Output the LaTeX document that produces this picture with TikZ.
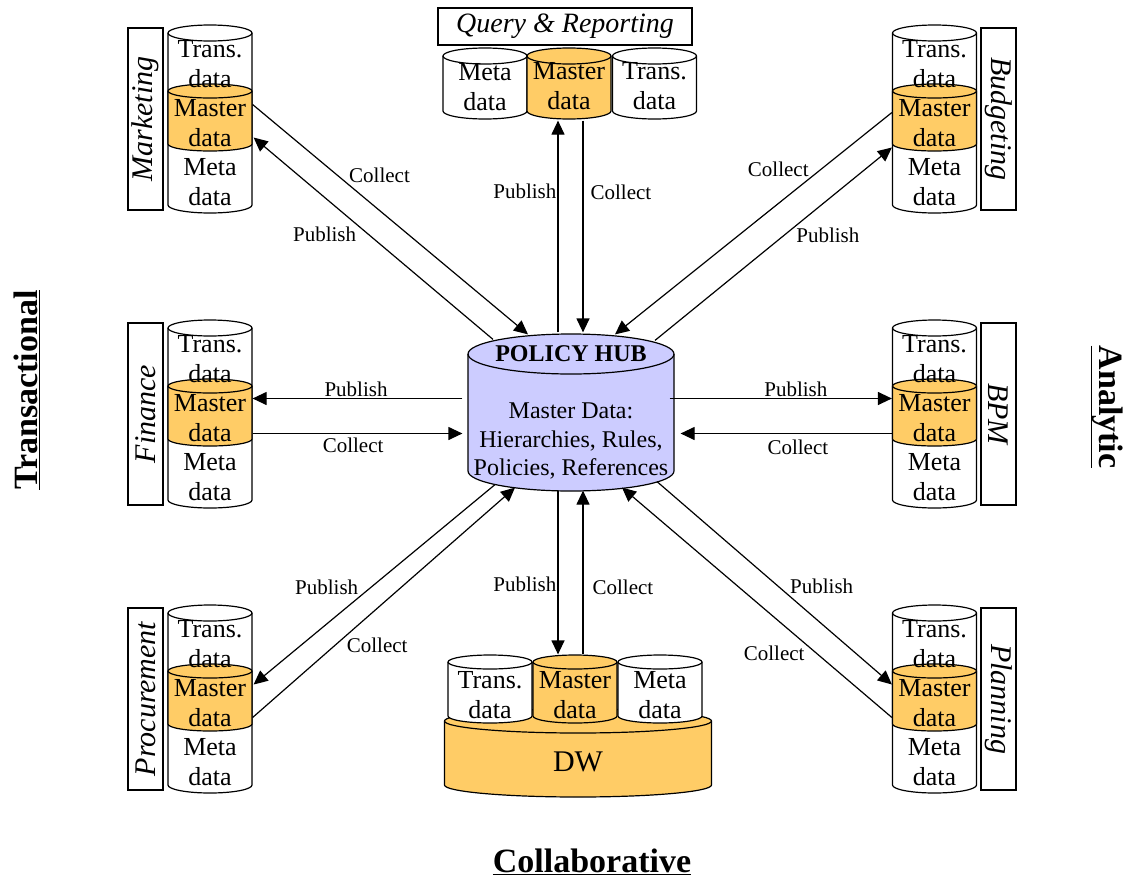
\documentclass[tikz,border=0pt]{standalone}
\usepackage{fontspec}
\setmainfont{Liberation Serif}
\usepackage{tikz}
\usetikzlibrary{arrows.meta}
\usetikzlibrary{calc}
\usepackage{xcolor}
\definecolor{mastercol}{HTML}{FFCC66}
\definecolor{hubcol}{HTML}{CCCCFF}
\tikzset{every text node part/.style={align=center}}
\tikzstyle{txt} = [inner sep=0, font={\fontsize{26}{30}\selectfont}]
\tikzstyle{part} = [inner sep=0, minimum width=84pt]
\tikzstyle{lbox} = [draw, fill=white, minimum width=182pt, minimum height=35pt, inner sep=0, font={\fontsize{30}{30}\selectfont\itshape}]
\tikzstyle{ln} = [draw, -{Triangle[length=14pt, width=13pt]}]
\tikzstyle{lbl} = [inner sep=1pt, font={\fontsize{21}{21}\selectfont}]
\tikzstyle{title} = [inner sep=0, font={\fontsize{34}{34}\selectfont\bfseries}]

% cylinder: x, top y, bottom y, x radius, y radius, fill
\newcommand{\cyl}[6]{%
  \filldraw[fill=#6] ({#1-#4},#2) -- ({#1-#4},#3)
    arc[start angle=180, end angle=360, x radius=#4pt, y radius=#5pt]
    -- ({#1+#4},#2)
    arc[start angle=0, end angle=180, x radius=#4pt, y radius=#5pt] -- cycle;
  \draw ({#1-#4},#2) arc[start angle=180, end angle=360, x radius=#4pt, y radius=#5pt];
}
% stack of trans/master/meta data: name, x, top y
\newcommand{\sidestack}[3]{%
  \cyl{#2}{#3}{#3+172}{42}{8}{white}
  \cyl{#2}{#3+58}{#3+111}{42}{7}{mastercol}
  \node[part, minimum height=53pt] (#1) at (#2,#3+84.5) {};
  \node[txt] (#1-t) at (#2,#3+31) {Trans.\\data};
  \node[txt] (#1-m) at (#2,#3+90) {Master\\data};
  \node[txt] (#1-d) at (#2,#3+149) {Meta\\data};
}

\begin{document}
\begin{tikzpicture}[x=1pt, y=-1pt, line width=1.2pt]
  \useasboundingbox (0,0) rectangle (1130,881);

  % policy hub
  \cyl{571}{354}{471}{103}{20}{hubcol}
  \node[part, minimum width=206pt, minimum height=157pt] (hub) at (571,412.5) {};
  \node[inner sep=0, font={\fontsize{24}{24}\selectfont\bfseries}] (hubtitle) at (571,354) {POLICY HUB};
  \node[inner sep=0, font={\fontsize{24}{28.5}\selectfont}] (hubtext) at (571,441) {Master Data:\\Hierarchies, Rules,\\Policies, References};

  % side stacks
  \sidestack{mkt}{210}{33}
  \sidestack{fin}{210}{328}
  \sidestack{proc}{210}{613}
  \sidestack{bud}{934.5}{33}
  \sidestack{bpm}{934.5}{328}
  \sidestack{plan}{934.5}{613}
  \node[lbox, rotate=90] (mktbox) at (145.5,119) {Marketing};
  \node[lbox, rotate=90] (finbox) at (145.5,414) {Finance};
  \node[lbox, rotate=90] (procbox) at (145.5,699) {Procurement};
  \node[lbox, rotate=-90] (budbox) at (998.5,119) {Budgeting};
  \node[lbox, rotate=-90] (bpmbox) at (998.5,414) {BPM};
  \node[lbox, rotate=-90] (planbox) at (998.5,699) {Planning};

  % query & reporting
  \node[draw, minimum width=254pt, minimum height=37pt, inner sep=0, font={\fontsize{28}{28}\selectfont\itshape}] (qrbox) at (565,26.5) {Query \& Reporting};
  \cyl{485}{56}{111}{42}{8}{white}
  \cyl{654.5}{56}{111}{42}{8}{white}
  \cyl{569}{56}{111}{42}{8}{mastercol}
  \node[part, minimum height=55pt] (qr) at (569,83.5) {};
  \node[txt] (qrmeta) at (485,87) {Meta\\data};
  \node[txt] (qrmast) at (569,86) {Master\\data};
  \node[txt] (qrtrans) at (654.5,86) {Trans.\\data};

  % data warehouse
  \cyl{578}{721}{785}{133.5}{12}{mastercol}
  \cyl{490}{662}{716}{42}{7}{white}
  \cyl{660}{662}{716}{42}{7}{white}
  \cyl{575}{662}{716}{42}{7}{mastercol}
  \node[part, minimum height=54pt] (dwm) at (575,689) {};
  \node[txt] (dwtrans) at (490,695) {Trans.\\data};
  \node[txt] (dwmast) at (575,695) {Master\\data};
  \node[txt] (dwmeta) at (660,695) {Meta\\data};
  \node[inner sep=0, font={\fontsize{30}{30}\selectfont}] (dw) at (578,762) {DW};

  % publish / collect
  \draw[ln] ($(mkt.east)+(0,-13)$) -- node[lbl, pos=.345, anchor=south west] (c1) {Collect} ($(hub.north)+(-43,1)$);
  \draw[ln] ($(hub.north)+(-78,6)$) -- node[lbl, pos=.565, anchor=north east] (p1) {Publish} ($(mkt.east)+(1,20)$);
  \draw[ln] ($(bud.west)+(0,-5)$) -- node[lbl, pos=.295, anchor=south east] (c2) {Collect} ($(hub.north)+(44,1)$);
  \draw[ln] ($(hub.north)+(84,7)$) -- node[lbl, pos=.59, anchor=north west] (p2) {Publish} ($(bud.west)+(0,30)$);
  \draw[ln] ($(hub.west)+(-5,-14)$) -- node[lbl, pos=.507, above] (p3) {Publish} ($(fin.east)+(0,-14)$);
  \draw[ln] ($(fin.east)+(0,21)$) -- node[lbl, pos=.479, below=3pt] (c3) {Collect} ($(hub.west)+(-5,21)$);
  \draw[ln] ($(hub.east)+(-5,-14)$) -- node[lbl, pos=.568, above] (p4) {Publish} ($(bpm.west)+(0,-14)$);
  \draw[ln] ($(bpm.west)+(0,21)$) -- node[lbl, pos=.445, below=5pt] (c4) {Collect} ($(hub.east)+(6,21)$);
  \draw[ln] ($(hub.north)+(-13,-1)$) -- node[lbl, pos=.667, left] (p5) {Publish} ($(qr.south)+(-11,9)$);
  \draw[ln] ($(qr.south)+(14,9)$) -- node[lbl, pos=.338, right=6pt] (c5) {Collect} ($(hub.north)+(12,-1)$);
  \draw[ln] ($(hub.south)+(-13,-1)$) -- node[lbl, pos=.57, left] (p6) {Publish} ($(dwm.north)+(-17,-7)$);
  \draw[ln] ($(dwm.north)+(8,-7)$) -- node[lbl, pos=.412, right=8pt] (c6) {Collect} ($(hub.south)+(12,-1)$);
  \draw[ln] ($(hub.south)+(-76,-7)$) -- node[lbl, pos=.56, anchor=south east] (p7) {Publish} ($(proc.east)+(1,-13)$);
  \draw[ln] ($(proc.east)+(0,20)$) -- node[lbl, pos=.353, anchor=north west] (c7) {Collect} ($(hub.south)+(-56,-4)$);
  \draw[ln] ($(hub.south)+(86,-10)$) -- node[lbl, pos=.56, anchor=south west] (p8) {Publish} ($(plan.west)+(0,-13)$);
  \draw[ln] ($(plan.west)+(0,20)$) -- node[lbl, pos=.318, anchor=north east] (c8) {Collect} ($(hub.south)+(51,-4)$);

  % sides
  \node[title, rotate=90] (transact) at (27,390) {\underline{Transactional}};
  \node[title, rotate=-90] (analytic) at (1107,407) {\underline{Analytic}};
  \node[title] (collab) at (592,862) {\underline{Collaborative}};
\end{tikzpicture}
\end{document}
